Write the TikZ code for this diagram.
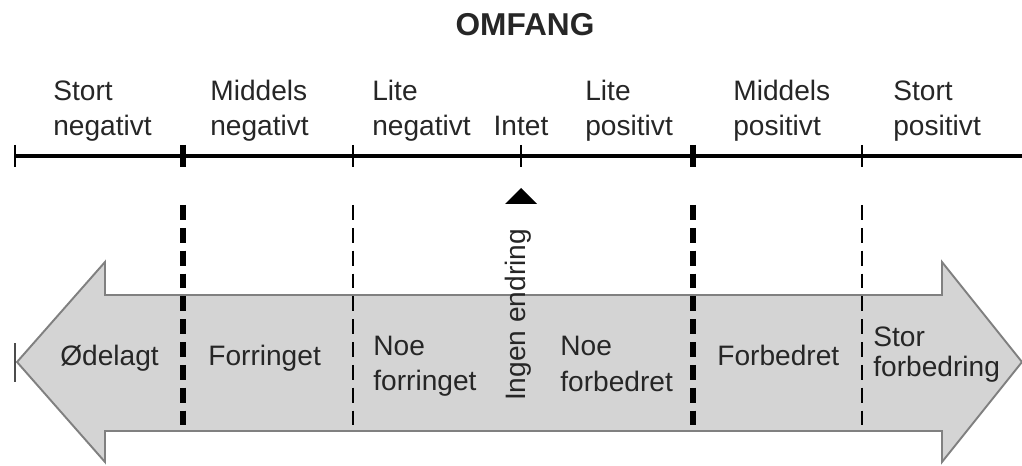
\documentclass[tikz,border=0pt]{standalone}
\usepackage{fontspec}
\setmainfont{Liberation Sans}
\begin{document}
\begin{tikzpicture}[x=0.02cm,y=-0.02cm,
  every node/.style={font=\fontsize{16}{20}\selectfont, text=black!85, inner sep=0pt},
  lab/.style={align=left, anchor=south west},
  inlab/.style={align=left, anchor=west},
  thickdash/.style={line width=3.4pt, dash pattern=on 8.5pt off 4.5pt},
  thindash/.style={line width=1.6pt, dash pattern=on 8.5pt off 4.5pt}]
  \useasboundingbox (0,0) rectangle (1022,466);

  \node[font=\fontsize{18}{20}\selectfont\bfseries] (title) at (525,25) {OMFANG};

  \coordinate (t0) at (15,156);
  \coordinate (t1) at (183,156);
  \coordinate (t2) at (353,156);
  \coordinate (t3) at (521,156);
  \coordinate (t4) at (693,156);
  \coordinate (t5) at (862,156);
  \coordinate (tend) at (1022,156);

  \draw[line width=2.2pt] (t0) -- (tend);
  \foreach \t/\w in {t0/1.6pt,t1/3.4pt,t2/1.6pt,t3/1.6pt,t4/3.4pt,t5/1.6pt}
    \draw[line width=\w] (\t) ++(0,-11) -- ++(0,22);

  \node[lab] (sneg) at (53,142) {Stort\\negativt};
  \node[lab] (mneg) at (210,142) {Middels\\negativt};
  \node[lab] (lneg) at (372,142) {Lite\\negativt};
  \node[anchor=base] (intet) at (t3 |- 0,136) {Intet};
  \node[lab] (lpos) at (585,142) {Lite\\positivt};
  \node[lab] (mpos) at (733,142) {Middels\\positivt};
  \node[lab] (spos) at (893,142) {Stort\\positivt};

  \draw[fill=black!17, draw=black!50, line width=1.1pt]
    (17,362) -- (105,262) -- (105,295) -- (942,295) -- (942,262) -- (1022,362)
    -- (942,462) -- (942,431) -- (105,431) -- (105,462) -- cycle;
  \draw[black!70, line width=1.7pt] (15,343) -- (15,382);

  \foreach \t/\s in {t1/thickdash,t2/thindash,t4/thickdash,t5/thindash}
    \draw[\s] (\t) ++(0,49) -- ++(0,227);

  \fill (t3) ++(0,32) -- ++(16,16) -- ++(-32,0) -- cycle;
  \node[rotate=90] (ingen) at (518,315) {Ingen endring};

  \node[inlab] (odelagt) at (60,358) {Ødelagt};
  \node[inlab] (forringet) at (208,358) {Forringet};
  \node[inlab] (noeforr) at (373,366) {Noe\\forringet};
  \node[inlab] (noeforb) at (560,364) {Noe\\forbedret};
  \node[inlab] (forbedret) at (717,355) {Forbedret};
  \node[inlab, font=\fontsize{16}{17}\selectfont] (storforb) at (873,355) {Stor\\forbedring};
\end{tikzpicture}
\end{document}
